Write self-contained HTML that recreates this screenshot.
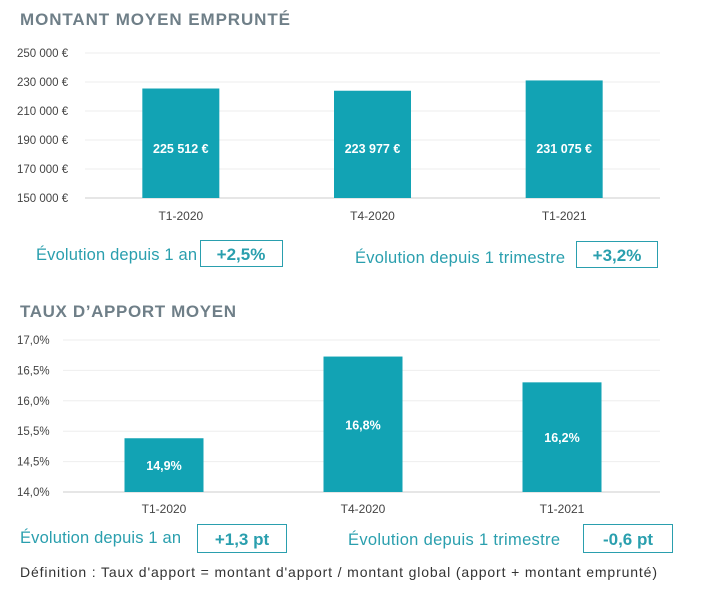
<!DOCTYPE html>
<html><head><meta charset="utf-8"><style>
body{margin:0;width:701px;height:594px;background:#fff;overflow:hidden;font-family:"Liberation Sans",sans-serif;}
svg{display:block}
</style></head><body>
<svg width="701" height="594">
<text x="20" y="25" font-size="17" font-weight="bold" fill="#6f7f88" textLength="270">MONTANT MOYEN EMPRUNTÉ</text>
<g id="c1"></g>
<text x="36" y="260" font-size="16.5" fill="#2a9fae" textLength="161">Évolution depuis 1 an</text>
<rect x="200.5" y="240.5" width="82" height="26" fill="none" stroke="#2a9fae"/>
<text x="241" y="260" font-size="17" font-weight="bold" fill="#2a9fae" text-anchor="middle">+2,5%</text>
<text x="355" y="263" font-size="16.5" fill="#2a9fae" textLength="210">Évolution depuis 1 trimestre</text>
<rect x="576.5" y="241.5" width="81" height="26" fill="none" stroke="#2a9fae"/>
<text x="617" y="261" font-size="17" font-weight="bold" fill="#2a9fae" text-anchor="middle">+3,2%</text>

<text x="20" y="317" font-size="17" font-weight="bold" fill="#6f7f88" textLength="216">TAUX D’APPORT MOYEN</text>
<g id="c2"></g>
<text x="20" y="543" font-size="16.5" fill="#2a9fae" textLength="161">Évolution depuis 1 an</text>
<rect x="197.5" y="524.5" width="89" height="28" fill="none" stroke="#2a9fae"/>
<text x="242" y="545" font-size="17" font-weight="bold" fill="#2a9fae" text-anchor="middle">+1,3 pt</text>
<text x="348" y="545" font-size="16.5" fill="#2a9fae" textLength="212">Évolution depuis 1 trimestre</text>
<rect x="583.5" y="524.5" width="89" height="28" fill="none" stroke="#2a9fae"/>
<text x="628" y="545" font-size="17" font-weight="bold" fill="#2a9fae" text-anchor="middle">-0,6 pt</text>
<text x="20" y="577" font-size="14" fill="#333" textLength="637">Définition : Taux d'apport = montant d'apport / montant global (apport + montant emprunté)</text>
</svg>
<script>
const cats1=["T1-2020","T4-2020","T1-2021"];
const vals1=[225512,223977,231075];
const labels1=["225 512 €","223 977 €","231 075 €"];
const ticks1=[150000,170000,190000,210000,230000,250000];
const tickLabels1=["150 000 €","170 000 €","190 000 €","210 000 €","230 000 €","250 000 €"];
const cats2=["T1-2020","T4-2020","T1-2021"];
const vals2=[14.9,16.8,16.2];
const labels2=["14,9%","16,8%","16,2%"];
const tickLabels2=["14,0%","14,5%","15,5%","16,0%","16,5%","17,0%"];
const NS="http://www.w3.org/2000/svg";
function mk(p,t,a){const e=document.createElementNS(NS,t);for(const k in a)e.setAttribute(k,a[k]);p.appendChild(e);return e;}
const TEAL="#12a3b4";
(function(){
const g=document.getElementById('c1');
const y=v=>198-(v-150000)/100000*145;
const x0=85,x1=660,bw=77;
const xc=i=>x0+(x1-x0)*(i+0.5)/cats1.length;
ticks1.forEach((t,i)=>{
 const l=mk(g,'line',{x1:x0,x2:x1,y1:y(t),y2:y(t),stroke:i==0?'#ccc':'#eee'});
 
 
 const tx=mk(g,'text',{x:17,y:y(t)+4,'font-size':11.5,fill:'#444'});tx.textContent=tickLabels1[i];
 
 
});
vals1.forEach((v,i)=>{
 const r=mk(g,'rect',{x:xc(i)-bw/2,y:y(v),width:bw,height:y(150000)-y(v),fill:TEAL});
 
 
 const t=mk(g,'text',{x:xc(i),y:153,'font-size':12.5,'font-weight':'bold',fill:'#fff','text-anchor':'middle'});t.textContent=labels1[i];
 
 
 const c=mk(g,'text',{x:xc(i),y:220,'font-size':12,fill:'#444','text-anchor':'middle'});c.textContent=cats1[i];
 
 
});
})();
(function(){
const g=document.getElementById('c2');
const yb=492,yt=340;
const y=v=>yb-(v-13.65)*43;
const x0=63,x1=660,bw=79;
const xc=i=>x0+(x1-x0)*(i+0.5)/cats2.length+1.5;
tickLabels2.forEach((s,i)=>{
 const yy=yb-(yb-yt)*i/(tickLabels2.length-1);
 const l=mk(g,'line',{x1:x0,x2:x1,y1:yy,y2:yy,stroke:i==0?'#ccc':'#eee'});
 
 
 const tx=mk(g,'text',{x:17,y:yy+4,'font-size':11.5,fill:'#444'});tx.textContent=s;
 
 
});
vals2.forEach((v,i)=>{
 const top=Math.max(yt,y(v));
 const r=mk(g,'rect',{x:xc(i)-bw/2,y:top,width:bw,height:yb-top,fill:TEAL});
 
 
 const t=mk(g,'text',{x:xc(i),y:(top+yb)/2+5,'font-size':12.5,'font-weight':'bold',fill:'#fff','text-anchor':'middle'});t.textContent=labels2[i];
 
 
 const c=mk(g,'text',{x:xc(i),y:513,'font-size':12,fill:'#444','text-anchor':'middle'});c.textContent=cats2[i];
 
 
});
})();
</script>
</body></html>
